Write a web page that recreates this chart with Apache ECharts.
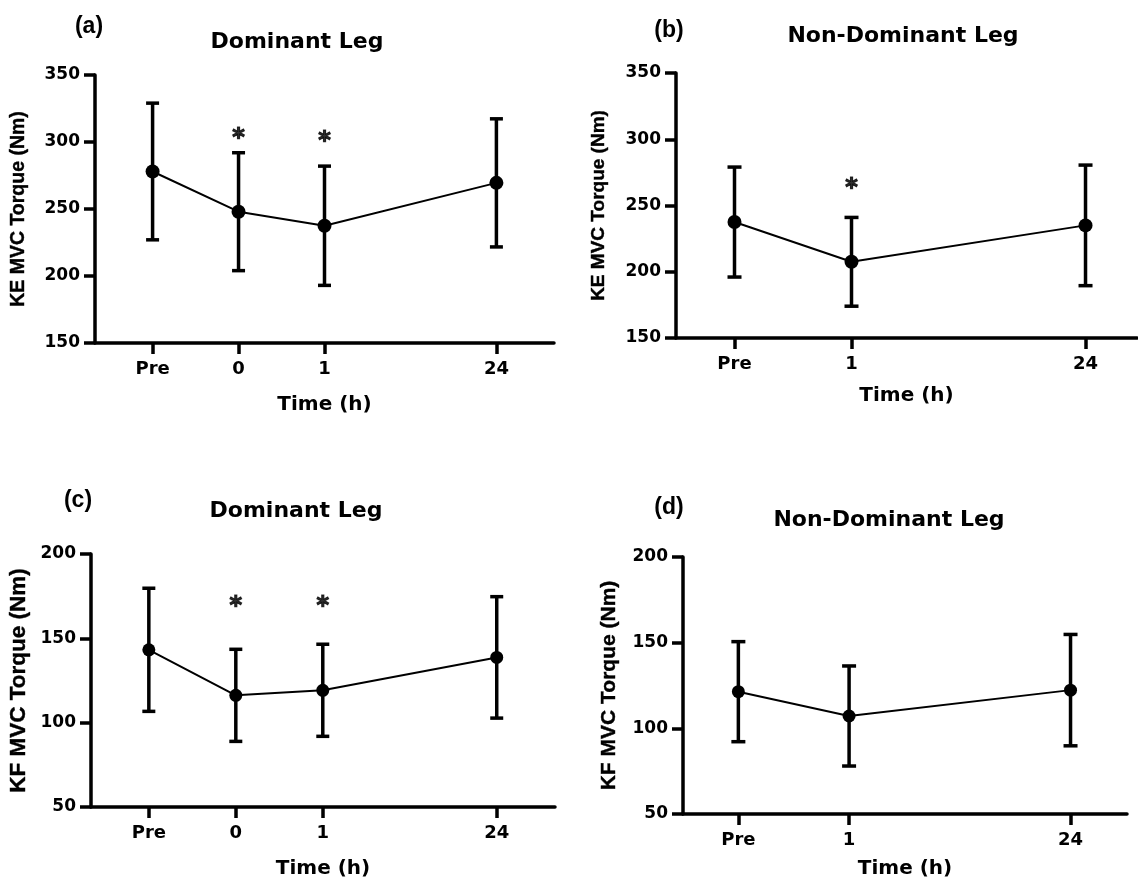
<!DOCTYPE html>
<html>
<head>
<meta charset="utf-8">
<script src="https://cdn.jsdelivr.net/npm/echarts@6/dist/echarts.min.js"></script>
<style>
  html, body { margin: 0; padding: 0; background: #fff; }
  #chart { width: 1138px; height: 881px; }
</style>
</head>
<body>
<div id="chart"></div>
<script>
// KE torque, dominant leg (a)
const catsA = ['Pre', '0', '1', '24'];
const slotsA = [0, 1, 2, 4];
const meanA = [278, 248, 237.5, 269.5];
const sdA = [51, 44, 44.5, 47.8];
const starA = [null, 307, 305, null];

// KE torque, non-dominant leg (b)
const catsB = ['Pre', '1', '24'];
const slotsB = [0, 1, 3];
const meanB = [237.5, 207.5, 235];
const sdB = [41.5, 33.5, 45.5];
const starB = [null, 267.5, null];

// KF torque, dominant leg (c)
const catsC = ['Pre', '0', '1', '24'];
const slotsC = [0, 1, 2, 4];
const meanC = [143.2, 116.2, 119.2, 138.7];
const sdC = [36.5, 27.3, 27.3, 36];
const starC = [null, 172.5, 172.5, null];

// KF torque, non-dominant leg (d)
const catsD = ['Pre', '1', '24'];
const slotsD = [0, 1, 3];
const meanD = [121.4, 107.2, 122.3];
const sdD = [29.2, 29.2, 32.5];
const starD = [null, null, null];

const keTicks = { min: 150, max: 350, interval: 50 };
const kfTicks = { min: 50, max: 200, interval: 50 };

const wideFont = 'DejaVu Sans';
const arialFont = 'Arial, "Liberation Sans", sans-serif';

const panels = [
  { cats: catsA, slots: slotsA, mean: meanA, sd: sdA, star: starA, ticks: keTicks,
    grid: { left: 95, right: 584, top: 75, bottom: 538 }, xr: [-0.67, 4.67],
    yName: 'KE MVC Torque (Nm)', yNameSize: 19.5, yGap: 66, xGap: 52, dot: 14, cap: 6.5,
    title: 'Dominant Leg', tx: 292, ty: 26, tag: '(a)', lx: 84, ly: 10 },
  { cats: catsB, slots: slotsB, mean: meanB, sd: sdB, star: starB, ticks: keTicks,
    grid: { left: 676, right: 1, top: 73, bottom: 543 }, xr: [-0.5, 3.44],
    yName: 'KE MVC Torque (Nm)', yNameSize: 19, yGap: 68, xGap: 48, dot: 14, cap: 7,
    title: 'Non-Dominant Leg', tx: 898, ty: 20, tag: '(b)', lx: 664, ly: 14 },
  { cats: catsC, slots: slotsC, mean: meanC, sd: sdC, star: starC, ticks: kfTicks,
    grid: { left: 91, right: 583, top: 554, bottom: 74 }, xr: [-0.665, 4.67],
    yName: 'KF MVC Torque (Nm)', yNameSize: 22.5, yGap: 61, xGap: 52, dot: 13, cap: 6.5,
    title: 'Dominant Leg', tx: 291, ty: 495, tag: '(c)', lx: 73, ly: 484 },
  { cats: catsD, slots: slotsD, mean: meanD, sd: sdD, star: starD, ticks: kfTicks,
    grid: { left: 683, right: 11, top: 557, bottom: 67 }, xr: [-0.5, 3.51],
    yName: 'KF MVC Torque (Nm)', yNameSize: 21, yGap: 63, xGap: 45, dot: 13, cap: 7,
    title: 'Non-Dominant Leg', tx: 884, ty: 504, tag: '(d)', lx: 664, ly: 491 }
];

function makeErrorBar(halfCap) {
  return function (params, api) {
    const x = api.value(0);
    const lo = api.coord([x, api.value(1)]);
    const hi = api.coord([x, api.value(2)]);
    const style = { stroke: '#000', lineWidth: 3.5 };
    return {
      type: 'group',
      children: [
        { type: 'line', shape: { x1: lo[0], y1: lo[1], x2: hi[0], y2: hi[1] }, style: style },
        { type: 'line', shape: { x1: hi[0] - halfCap, y1: hi[1], x2: hi[0] + halfCap, y2: hi[1] }, style: style },
        { type: 'line', shape: { x1: lo[0] - halfCap, y1: lo[1], x2: lo[0] + halfCap, y2: lo[1] }, style: style }
      ]
    };
  };
}

const option = {
  animation: false,
  backgroundColor: '#fff',
  title: [],
  grid: [],
  xAxis: [],
  yAxis: [],
  series: []
};

panels.forEach(function (p, i) {
  option.grid.push(p.grid);
  option.title.push({
    text: p.title, left: p.tx, top: p.ty, textAlign: 'center',
    textStyle: { fontFamily: wideFont, fontWeight: 'bold', fontSize: 22, color: '#000' }
  });
  option.title.push({
    text: p.tag, left: p.lx, top: p.ly, textAlign: 'center',
    textStyle: { fontFamily: arialFont, fontWeight: 'bold', fontSize: 23, color: '#000' }
  });
  option.xAxis.push({
    type: 'value', gridIndex: i, min: p.xr[0], max: p.xr[1],
    name: 'Time (h)', nameLocation: 'middle', nameGap: p.xGap,
    nameTextStyle: { fontFamily: wideFont, fontWeight: 'bold', fontSize: 20, color: '#000' },
    axisLine: { show: true, onZero: false, lineStyle: { color: '#000', width: 3.5 } },
    axisTick: { show: true, customValues: p.slots, length: 11, lineStyle: { color: '#000', width: 3.5 } },
    axisLabel: {
      customValues: p.slots, margin: 17,
      fontFamily: wideFont, fontWeight: 'bold', fontSize: 18, color: '#000',
      formatter: function (v) { return p.cats[p.slots.indexOf(v)]; }
    },
    splitLine: { show: false }
  });
  option.yAxis.push({
    type: 'value', gridIndex: i, min: p.ticks.min, max: p.ticks.max, interval: p.ticks.interval,
    name: p.yName, nameLocation: 'middle', nameRotate: 90, nameGap: p.yGap,
    nameTextStyle: {
      fontFamily: arialFont, fontWeight: 'bold', fontSize: p.yNameSize, color: '#000',
      textBorderColor: '#000', textBorderWidth: 0.4
    },
    axisLine: { show: true, onZero: false, lineStyle: { color: '#000', width: 3.5 } },
    axisTick: { show: true, length: 11, lineStyle: { color: '#000', width: 3.5 } },
    axisLabel: { margin: 15, fontFamily: wideFont, fontWeight: 'bold', fontSize: 17, color: '#000' },
    splitLine: { show: false }
  });
  option.series.push({
    type: 'custom', xAxisIndex: i, yAxisIndex: i, z: 2,
    renderItem: makeErrorBar(p.cap),
    data: p.slots.map(function (s, k) { return [s, p.mean[k] - p.sd[k], p.mean[k] + p.sd[k]]; })
  });
  option.series.push({
    type: 'line', xAxisIndex: i, yAxisIndex: i, z: 3,
    symbol: 'circle', symbolSize: p.dot,
    lineStyle: { color: '#000', width: 2 },
    itemStyle: { color: '#000' },
    data: p.slots.map(function (s, k) { return [s, p.mean[k]]; })
  });
  const stars = [];
  p.slots.forEach(function (s, k) { if (p.star[k] !== null) stars.push([s, p.star[k]]); });
  option.series.push({
    type: 'scatter', xAxisIndex: i, yAxisIndex: i, z: 4,
    symbolSize: 1, itemStyle: { color: 'rgba(0,0,0,0)' },
    label: {
      show: true, position: 'inside', formatter: '*', offset: [0, 6],
      fontFamily: wideFont, fontWeight: 'bold', fontSize: 24, color: '#000',
      textBorderColor: '#000', textBorderWidth: 1.2
    },
    data: stars
  });
});

const chart = echarts.init(document.getElementById('chart'));
chart.setOption(option);
</script>
</body>
</html>
